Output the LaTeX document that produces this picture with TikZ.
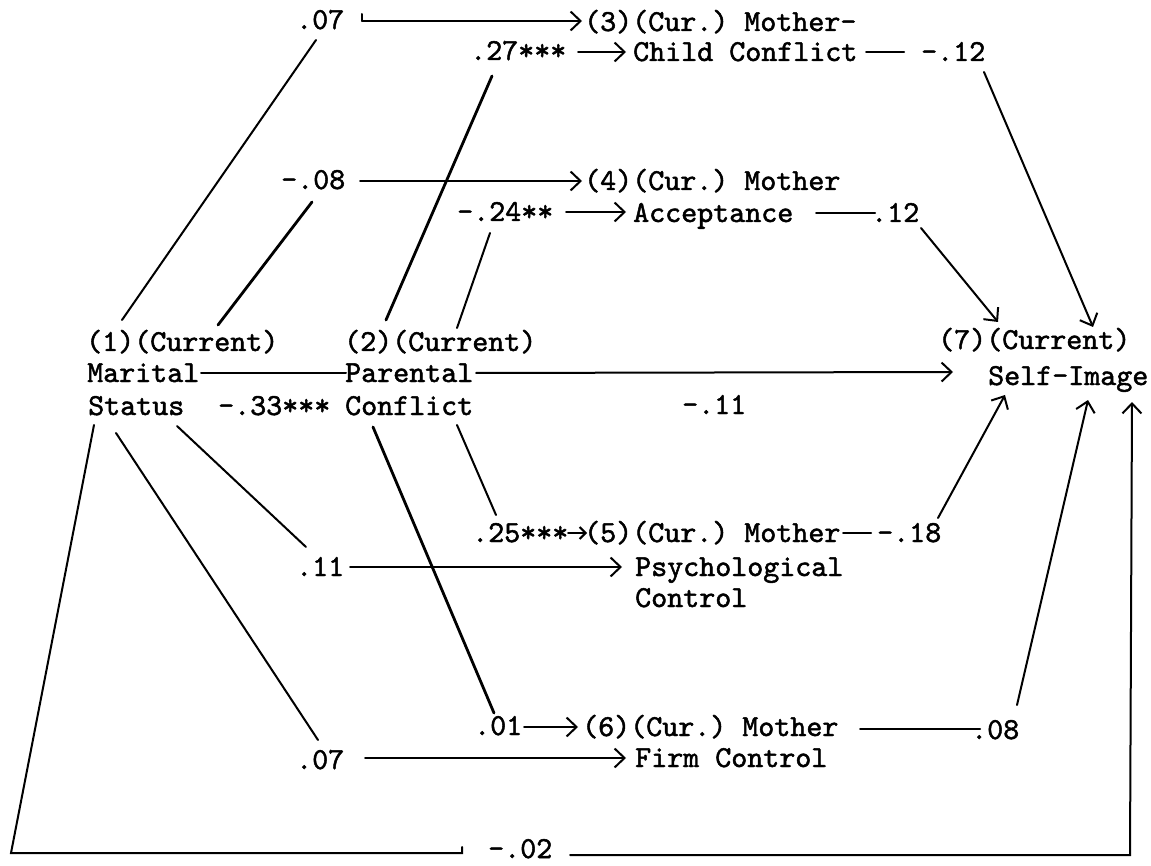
\documentclass[tikz,border=0pt]{standalone}
\usepackage{fontspec}
\usetikzlibrary{arrows.meta}
\newfontfamily\typew{lmmono10-regular.otf}[FakeBold=1.6]
\begin{document}
\frenchspacing
\begin{tikzpicture}[x=1pt,y=-1pt,
  every node/.style={inner sep=0pt, anchor=base west, font=\fontsize{30.5}{34}\selectfont\typew},
  ln/.style={line width=2pt, line cap=round},
  tk/.style={line width=2.8pt, line cap=round},
  arr/.style={ln, -{Straight Barb[length=10pt,width=19pt]}}]
\useasboundingbox (0,0) rectangle (1151,866);
\fill[white] (0,0) rectangle (1151,866);
% variable nodes
\node (n1a) at (86,351) {(1)(Current)};
\node (n1b) at (87,382) {Marital};
\node (n1c) at (88,415) {Status};
\node (n2a) at (344,351) {(2)(Current)};
\node (n2b) at (345,382) {Parental};
\node (n2c) at (345,415) {Conflict};
\node (n3a) at (584,31) {(3)(Cur.) Mother-};
\node (n3b) at (633,61) {Child Conflict};
\node (n4a) at (584,190) {(4)(Cur.) Mother};
\node (n4b) at (633,222) {Acceptance};
\node (n5a) at (584,542) {(5)(Cur.) Mother};
\node (n5b) at (635,576) {Psychological};
\node (n5c) at (635,607) {Control};
\node (n6a) at (582,736) {(6)(Cur.) Mother};
\node (n6b) at (635,767) {Firm Control};
\node (n7a) at (938,349) {(7)(Current)};
\node (n7b) at (988,385) {Self-Image};
% coefficient labels
\node (t07a) at (296,29) {.07};
\node (t27) at (470,60) {.27***};
\node (t12a) at (921,61) {-.12};
\node (t08) at (281,189) {-.08};
\node (t24) at (457,221) {-.24**};
\node (t12b) at (871,222) {.12};
\node (t33) at (218,415) {-.33***};
\node (t11) at (682,414) {-.11};
\node (t25) at (472,542) {.25***};
\node (t18) at (877,542) {-.18};
\node (t11b) at (296,576) {.11};
\node (t01) at (474,735) {.01};
\node (t08b) at (971,739) {.08};
\node (t07b) at (296,769) {.07};
\node (t02) at (488,858) {-.02};
% connector end points
\coordinate (a07s) at (362,21);
\coordinate (a07e) at (582,21);
\coordinate (a27s) at (578,52);
\coordinate (a27e) at (626,52);
\coordinate (c3s) at (866,52);
\coordinate (c3e) at (904,52);
\coordinate (p12a) at (984,72);
\coordinate (h12a) at (1093,327);
\coordinate (a08s) at (360,181);
\coordinate (a08e) at (582,181);
\coordinate (a24s) at (566,212);
\coordinate (a24e) at (626,212);
\coordinate (c4s) at (816,213);
\coordinate (c4e) at (875,213);
\coordinate (p12b) at (921,228);
\coordinate (h12b) at (998,322);
\coordinate (u1a) at (122,320);
\coordinate (q07a) at (316,40);
\coordinate (u1b) at (218,325);
\coordinate (q08) at (312,202);
\coordinate (u2a) at (386,320);
\coordinate (q27) at (492,76);
\coordinate (u2b) at (457,328);
\coordinate (q24) at (490,233);
\coordinate (m1) at (201,373);
\coordinate (m2) at (346,373);
\coordinate (p2) at (476,373);
\coordinate (h11) at (953,372);
\coordinate (d1a) at (94,425);
\coordinate (bl) at (11,853);
\coordinate (bm) at (462,853);
\coordinate (d1b) at (116,433);
\coordinate (q07b) at (318,740);
\coordinate (d1c) at (177,426);
\coordinate (q11b) at (306,547);
\coordinate (d2a) at (373,427);
\coordinate (q01) at (494,713);
\coordinate (d2b) at (457,425);
\coordinate (q25) at (496,515);
\coordinate (a25s) at (568,533);
\coordinate (a25e) at (587,533);
\coordinate (a11s) at (350,567);
\coordinate (a11e) at (622,567);
\coordinate (c5s) at (843,533);
\coordinate (c5e) at (871,533);
\coordinate (p18) at (938,518);
\coordinate (h18) at (1005,395);
\coordinate (a01s) at (524,727);
\coordinate (a01e) at (578,727);
\coordinate (c6s) at (860,729);
\coordinate (c6e) at (980,729);
\coordinate (p08b) at (1017,705);
\coordinate (h08b) at (1088,400);
\coordinate (a07bs) at (365,758);
\coordinate (a07be) at (626,758);
\coordinate (br) at (570,855);
\coordinate (brc) at (1130,855);
\coordinate (h02) at (1132,402);
% connectors
\draw[ln] (362,14) -- (a07s);
\draw[arr] (a07s) -- (a07e);
\draw[arr] (a27s) -- (a27e);
\draw[ln] (c3s) -- (c3e);
\draw[arr] (p12a) -- (h12a);
\draw[arr] (a08s) -- (a08e);
\draw[arr] (a24s) -- (a24e);
\draw[ln] (c4s) -- (c4e);
\draw[arr] (p12b) -- (h12b);
\draw[ln] (u1a) -- (q07a);
\draw[tk] (u1b) -- (q08);
\draw[tk] (u2a) -- (q27);
\draw[ln] (u2b) -- (q24);
\draw[ln] (m1) -- (m2);
\draw[arr] (p2) -- (h11);
\draw[ln] (d1a) -- (bl) -- (bm) -- ++(0,-6);
\draw[ln] (d1b) -- (q07b);
\draw[ln] (d1c) -- (q11b);
\draw[tk] (d2a) -- (q01);
\draw[ln] (d2b) -- (q25);
\draw[ln, -{Straight Barb[length=6pt,width=12pt]}] (a25s) -- (a25e);
\draw[arr] (a11s) -- (a11e);
\draw[ln] (c5s) -- (c5e);
\draw[arr] (p18) -- (h18);
\draw[arr] (a01s) -- (a01e);
\draw[ln] (c6s) -- (c6e);
\draw[arr] (p08b) -- (h08b);
\draw[arr] (a07bs) -- (a07be);
\draw[arr] (br) -- (brc) -- (h02);
\end{tikzpicture}
\end{document}
